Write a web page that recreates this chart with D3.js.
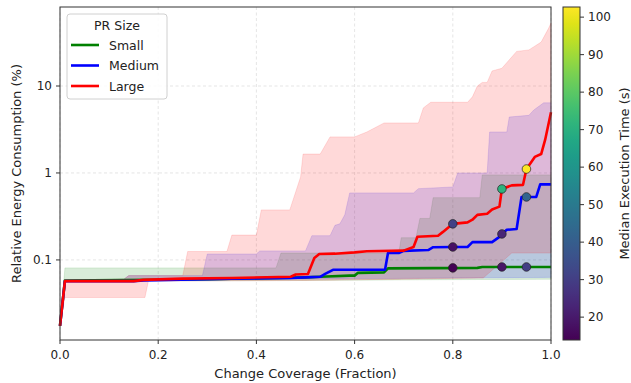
<!DOCTYPE html>
<html>
<head>
<meta charset="utf-8">
<title>Energy vs coverage</title>
<script src="https://d3js.org/d3.v7.min.js"></script>
<style>
    body { margin: 0; background: #fff; }
    svg { font-family: "DejaVu Sans", sans-serif; }
    .grid line { stroke: #dedede; stroke-width: 0.8; stroke-dasharray: 3, 2.5; }
    .tick-label { font-size: 12px; fill: #222; }
    .axis-label { font-size: 13px; fill: #222; }
</style>
</head>
<body>
<svg width="631" height="383"></svg>
<script>
    // [change coverage, relative energy %]
    var smallLine = [[0, 0.0174], [0.01, 0.058], [0.3, 0.06], [0.5, 0.063], [0.53, 0.064], [0.59, 0.066], [0.6, 0.066],
        [0.607, 0.071], [0.66, 0.072], [0.668, 0.08], [0.85, 0.081], [0.86, 0.083], [1, 0.083]];
    var mediumLine = [[0, 0.0174], [0.01, 0.057], [0.15, 0.057], [0.17, 0.058], [0.35, 0.061], [0.47, 0.062], [0.5, 0.063],
        [0.53, 0.064], [0.54, 0.069], [0.556, 0.077], [0.662, 0.077], [0.668, 0.12], [0.69, 0.12], [0.7, 0.127],
        [0.75, 0.13], [0.76, 0.14], [0.8, 0.141], [0.83, 0.141], [0.84, 0.16], [0.88, 0.16], [0.895, 0.184],
        [0.9, 0.199], [0.91, 0.222], [0.93, 0.227], [0.94, 0.53], [0.97, 0.53], [0.978, 0.74], [1, 0.74]];
    var largeLine = [[0, 0.0174], [0.01, 0.057], [0.15, 0.057], [0.17, 0.059], [0.25, 0.061], [0.35, 0.062], [0.47, 0.064],
        [0.48, 0.068], [0.505, 0.069], [0.518, 0.105], [0.528, 0.117], [0.56, 0.118], [0.6, 0.122], [0.625, 0.126],
        [0.7, 0.128], [0.72, 0.141], [0.728, 0.185], [0.77, 0.19], [0.78, 0.21], [0.8, 0.26], [0.83, 0.27],
        [0.84, 0.29], [0.85, 0.33], [0.87, 0.34], [0.88, 0.38], [0.895, 0.41], [0.9, 0.655], [0.92, 0.72],
        [0.943, 0.73], [0.95, 1.11], [0.967, 1.53], [0.98, 1.65], [0.988, 2.4], [1, 5]];

    // band edges
    var smallLo = [[0, 0.0174], [0.01, 0.057], [0.5, 0.058], [0.7, 0.059], [1, 0.06]];
    var smallHi = [[0, 0.0174], [0.01, 0.081], [0.44, 0.081], [0.45, 0.12], [0.69, 0.12], [0.695, 0.18], [0.725, 0.18],
        [0.733, 0.3], [0.753, 0.3], [0.76, 0.52], [0.855, 0.52], [0.86, 0.95], [1, 0.95]];
    var mediumLo = [[0, 0.0174], [0.01, 0.057], [0.5, 0.06], [0.8, 0.062], [1, 0.063]];
    var mediumHi = [[0, 0.0174], [0.01, 0.058], [0.13, 0.06], [0.14, 0.066], [0.29, 0.066], [0.3, 0.117], [0.4, 0.117],
        [0.407, 0.127], [0.5, 0.127], [0.513, 0.19], [0.55, 0.19], [0.56, 0.25], [0.57, 0.26], [0.58, 0.33],
        [0.59, 0.59], [0.72, 0.59], [0.73, 0.66], [0.8, 0.69], [0.81, 1.0], [0.87, 1.0], [0.875, 2.96],
        [0.91, 2.96], [0.915, 4.4], [0.955, 4.6], [0.965, 5.3], [0.985, 6.4], [1, 6.4]];
    var largeLo = [[0, 0.0174], [0.01, 0.037], [0.173, 0.037], [0.18, 0.057], [0.5, 0.058], [0.862, 0.062],
        [0.92, 0.12], [1, 0.12]];
    var largeHi = [[0, 0.0174], [0.01, 0.058], [0.13, 0.06], [0.14, 0.066], [0.25, 0.066], [0.26, 0.125], [0.34, 0.125],
        [0.35, 0.193], [0.4, 0.193], [0.41, 0.376], [0.468, 0.376], [0.49, 0.9], [0.495, 1.65], [0.53, 1.65],
        [0.55, 2.6], [0.6, 2.6], [0.625, 2.96], [0.66, 3.76], [0.73, 3.76], [0.74, 5.6], [0.755, 6.5],
        [0.83, 6.5], [0.84, 7.5], [0.85, 10], [0.86, 11], [0.87, 11], [0.88, 14.9], [0.9, 16], [0.93, 25],
        [0.955, 26], [0.98, 32], [0.995, 46], [1, 53]];

    // [coverage, energy, median execution time (s)]
    var smallPoints = [[0.8, 0.081, 14], [0.9, 0.083, 19], [0.95, 0.083, 30]];
    var mediumPoints = [[0.8, 0.141, 18], [0.9, 0.199, 23], [0.95, 0.53, 42]];
    var largePoints = [[0.8, 0.26, 31], [0.9, 0.655, 71], [0.95, 1.11, 102.7]];

    var sizeNames = ["Small", "Medium", "Large"];
    var sizeColors = ["#008000", "#0000ff", "#ff0000"];
    var xTicks = [0, 0.2, 0.4, 0.6, 0.8, 1.0];
    var yTicks = [0.1, 1, 10];
    var cbTicks = [20, 30, 40, 50, 60, 70, 80, 90, 100];
    var timeRange = [13.9, 102.7];

    var series = [
        {line: smallLine, lo: smallLo, hi: smallHi, pts: smallPoints},
        {line: mediumLine, lo: mediumLo, hi: mediumHi, pts: mediumPoints},
        {line: largeLine, lo: largeLo, hi: largeHi, pts: largePoints}
    ];

    var svg = d3.select("svg");
    var pLeft = 60, pRight = 551, pTop = 7, pBottom = 340;

    var x = d3.scaleLinear().domain([0, 1]).range([pLeft, pRight]);
    var y = d3.scaleLog().domain([0.012, 81]).range([pBottom, pTop]);
    var color = d3.scaleSequential(d3.interpolateViridis).domain(timeRange);

    // grid
    var grid = svg.append("g").attr("class", "grid");
    grid.selectAll(".gx").data(xTicks).enter().append("line")
        .attr("x1", d => x(d)).attr("x2", d => x(d)).attr("y1", pTop).attr("y2", pBottom);
    grid.selectAll(".gy").data(yTicks).enter().append("line")
        .attr("x1", pLeft).attr("x2", pRight).attr("y1", d => y(d)).attr("y2", d => y(d));

    var plot = svg.append("g");

    // bands: both edges sampled on a merged x grid
    function interp(arr, xv) {
        for (var i = 1; i < arr.length; i++) {
            if (xv <= arr[i][0]) {
                var a = arr[i - 1], b = arr[i];
                var t = (xv - a[0]) / (b[0] - a[0]);
                return Math.pow(10, Math.log10(a[1]) + t * (Math.log10(b[1]) - Math.log10(a[1])));
            }
        }
        return arr[arr.length - 1][1];
    }

    series.forEach(function (s, i) {
        var xs = Array.from(new Set(s.lo.map(d => d[0]).concat(s.hi.map(d => d[0])))).sort(d3.ascending);
        var band = xs.map(xv => ({x: xv, lo: interp(s.lo, xv), hi: interp(s.hi, xv)}));
        var area = d3.area().x(d => x(d.x)).y0(d => y(d.lo)).y1(d => y(d.hi));
        plot.append("path")
            .attr("d", area(band))
            .attr("fill", sizeColors[i])
            .attr("fill-opacity", 0.15)
            .attr("stroke", sizeColors[i])
            .attr("stroke-opacity", 0.12)
            .attr("stroke-width", 1);
    });

    var line = d3.line().x(d => x(d[0])).y(d => y(d[1]));
    series.forEach(function (s, i) {
        plot.append("path")
            .attr("d", line(s.line))
            .attr("fill", "none")
            .attr("stroke", sizeColors[i])
            .attr("stroke-width", 2.6)
            .attr("stroke-linejoin", "round");
    });

    series.forEach(function (s) {
        plot.selectAll(null).data(s.pts).enter().append("circle")
            .attr("cx", d => x(d[0]))
            .attr("cy", d => y(d[1]))
            .attr("r", 4.3)
            .attr("fill", d => color(d[2]))
            .attr("stroke", "#222")
            .attr("stroke-width", 0.7);
    });

    // frame
    svg.append("rect")
        .attr("x", pLeft).attr("y", pTop).attr("width", pRight - pLeft).attr("height", pBottom - pTop)
        .attr("fill", "none").attr("stroke", "#333").attr("stroke-width", 1);

    // x ticks
    var xt = svg.append("g");
    xt.selectAll("line").data(xTicks).enter().append("line")
        .attr("x1", d => x(d)).attr("x2", d => x(d)).attr("y1", pBottom).attr("y2", pBottom + 4)
        .attr("stroke", "#333");
    xt.selectAll("text").data(xTicks).enter().append("text")
        .attr("class", "tick-label")
        .attr("x", d => x(d)).attr("y", pBottom + 19)
        .attr("text-anchor", "middle")
        .text(d => d.toFixed(1));

    // y ticks
    var yt = svg.append("g");
    yt.selectAll("line").data(yTicks).enter().append("line")
        .attr("x1", pLeft - 4).attr("x2", pLeft).attr("y1", d => y(d)).attr("y2", d => y(d))
        .attr("stroke", "#333");
    yt.selectAll("text").data(yTicks).enter().append("text")
        .attr("class", "tick-label")
        .attr("x", pLeft - 8).attr("y", d => y(d) + 4.3)
        .attr("text-anchor", "end")
        .text(d => d >= 1 ? d3.format("d")(d) : d);

    svg.append("text").attr("class", "axis-label")
        .attr("x", (pLeft + pRight) / 2).attr("y", 378)
        .attr("text-anchor", "middle")
        .text("Change Coverage (Fraction)");
    svg.append("text").attr("class", "axis-label")
        .attr("transform", "translate(21," + ((pTop + pBottom) / 2) + ") rotate(-90)")
        .attr("text-anchor", "middle")
        .text("Relative Energy Consumption (%)");

    // legend
    var lg = svg.append("g");
    lg.append("rect")
        .attr("x", 67).attr("y", 14).attr("width", 100).attr("height", 85).attr("rx", 3)
        .attr("fill", "#fff").attr("fill-opacity", 0.85)
        .attr("stroke", "#d0d0d0").attr("stroke-width", 1);
    lg.append("text").attr("x", 117).attr("y", 30).attr("text-anchor", "middle")
        .attr("font-size", "12.5px").attr("fill", "#222").text("PR Size");
    sizeNames.forEach(function (name, i) {
        var yy = 45 + i * 20.5;
        lg.append("line").attr("x1", 71).attr("x2", 99).attr("y1", yy).attr("y2", yy)
            .attr("stroke", sizeColors[i]).attr("stroke-width", 2.6);
        lg.append("text").attr("x", 109).attr("y", yy + 4.5)
            .attr("font-size", "12.5px").attr("fill", "#222").text(name);
    });

    // colorbar
    var cbX = 563, cbW = 17;
    var cy = d3.scaleLinear().domain(timeRange).range([pBottom, pTop]);
    var grad = svg.append("defs").append("linearGradient")
        .attr("id", "viridis").attr("x1", 0).attr("x2", 0).attr("y1", 1).attr("y2", 0);
    d3.range(0, 1.0001, 0.05).forEach(function (t) {
        grad.append("stop").attr("offset", t).attr("stop-color", d3.interpolateViridis(t));
    });
    svg.append("rect")
        .attr("x", cbX).attr("y", pTop).attr("width", cbW).attr("height", pBottom - pTop)
        .attr("fill", "url(#viridis)").attr("stroke", "#333").attr("stroke-width", 1);
    var ct = svg.append("g");
    ct.selectAll("line").data(cbTicks).enter().append("line")
        .attr("x1", cbX + cbW).attr("x2", cbX + cbW + 4).attr("y1", d => cy(d)).attr("y2", d => cy(d))
        .attr("stroke", "#333");
    ct.selectAll("text").data(cbTicks).enter().append("text")
        .attr("class", "tick-label")
        .attr("x", cbX + cbW + 8).attr("y", d => cy(d) + 4.3)
        .text(d => d);
    svg.append("text").attr("class", "axis-label")
        .attr("transform", "translate(629," + ((pTop + pBottom) / 2) + ") rotate(-90)")
        .attr("text-anchor", "middle")
        .text("Median Execution Time (s)");
</script>
</body>
</html>
